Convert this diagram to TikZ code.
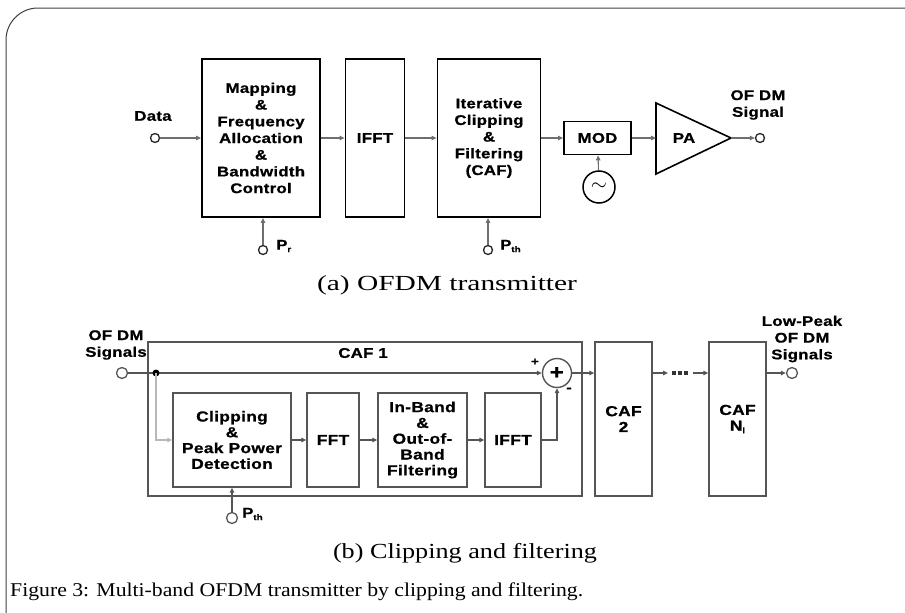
\documentclass[tikz,border=0pt]{standalone}
\usepackage{fontspec}
\usepackage{graphicx}
\usetikzlibrary{arrows.meta}
\setmainfont{Liberation Serif}
\newfontfamily\diagfont[FakeStretch=1.2, LetterSpace=2, FakeBold=0.8]{Liberation Sans}

\definecolor{edge}{HTML}{555555}
\definecolor{wire}{HTML}{6E6E6E}
\definecolor{lightwire}{HTML}{B8B8B8}

\tikzset{
  sanstext/.style={font={\diagfont\bfseries\fontsize{14}{16.7}\selectfont}, text=black, align=center},
  tbox/.style={sanstext, draw=black, line width=1.8pt, inner sep=0pt},
  bbox/.style={sanstext, draw=edge, line width=1.4pt, inner sep=0pt,
               font={\diagfont\bfseries\fontsize{14.5}{15.8}\selectfont}},
  lbl/.style={sanstext, inner sep=0pt},
  term/.style={circle, draw=black!85, line width=1.3pt, minimum size=9pt, inner sep=0pt},
  bterm/.style={circle, draw=edge, line width=1.3pt, minimum size=11pt, inner sep=0pt},
  tip/.style={-{Triangle[length=5pt,width=4.5pt]}},
  conn/.style={draw=wire, line width=1.1pt, tip},
  bconn/.style={draw=edge, line width=1.2pt, tip},
  lconn/.style={draw=lightwire, line width=1.6pt, tip},
  frame/.style={draw=black!75, line width=1pt, rounded corners=32pt},
  capfont/.style={inner sep=0pt, text=black}
}

\newcommand{\subsm}[1]{\raisebox{-2.5pt}{\fontsize{8}{8}\selectfont #1}}

\begin{document}
\begin{tikzpicture}[x=1pt,y=-1pt]
\useasboundingbox (0,0) rectangle (905,613);

% outer rounded frame
\begin{scope}
  \clip (0,0) rectangle (905,613);
  \draw[frame] (6,660) rectangle (935,8);
\end{scope}

% ---------- (a) transmitter ----------
\node[tbox, minimum width=118pt, minimum height=158pt] (map) at (261,138)
  {Mapping\\\&\\Frequency\\Allocation\\\&\\Bandwidth\\Control};
\node[tbox, minimum width=59pt, minimum height=158pt] (ifft) at (375,138) {IFFT};
\node[tbox, minimum width=103pt, minimum height=158pt] (caf) at (489,138)
  {Iterative\\Clipping\\\&\\Filtering\\(CAF)};
\node[tbox, minimum width=67pt, minimum height=33pt] (mod) at (597.5,138) {MOD};
\node[tbox, circle, minimum size=32pt, line width=1.5pt] (osc) at (599,187)
  {\fontsize{22}{22}\selectfont$\sim$};

% power amplifier
\draw[line width=1.6pt, line join=miter] (656,103) -- (656,174) -- (731,138) -- cycle;
\coordinate (paIn) at (656,138);
\coordinate (paOut) at (731,138);
\node[lbl] (pa) at (684,138) {PA};

\node[term] (din) at (155,138) {};
\node[lbl] (dlab) at (153,116) {Data};
\node[term] (dout) at (760,138) {};
\node[lbl] (olab) at (758,105) {OF DM\\Signal};

\node[term] (pr) at (263,250) {};
\node[lbl, anchor=west] (prl) at (276,246) {P\subsm{r}};
\node[term] (pth) at (488,250) {};
\node[lbl, anchor=west] (pthl) at (500,246) {P\subsm{th}};

\draw[conn] (din) -- (map);
\draw[conn] (map) -- (ifft);
\draw[conn] (ifft) -- (caf);
\draw[conn] (caf) -- (mod);
\draw[conn] (mod) -- (paIn);
\draw[conn] (paOut) -- (dout);
\draw[conn] (osc) -- (mod);
\draw[conn] (pr) -- (pr |- map.south);
\draw[conn] (pth) -- (pth |- caf.south);

\node[capfont] (capa) at (447,285)
  {\resizebox{260pt}{\height}{\fontsize{21.5}{21.5}\selectfont (a) OFDM transmitter}};

% ---------- (b) clipping and filtering ----------
\node[bbox, minimum width=434pt, minimum height=154pt] (caf1) at (365,419) {};
\node[lbl] (caf1l) at (363,353) {CAF 1};

\node[bterm] (bin) at (122,373) {};
\node[lbl] (inlab) at (116,345) {OF DM\\Signals};
\coordinate (split) at (156,373);

\node[bbox, circle, minimum size=29pt] (sum) at (557,373)
  {\fontsize{20}{20}\selectfont\textbf{+}};
\node[lbl, font={\diagfont\bfseries\fontsize{11}{11}\selectfont}] (plus) at (535,362) {+};
\node[lbl, font={\diagfont\bfseries\fontsize{14}{14}\selectfont}] (minus) at (569,390) {-};

\node[bbox, minimum width=118pt, minimum height=94pt] (clip) at (232,440)
  {Clipping\\\&\\Peak Power\\Detection};
\node[bbox, minimum width=52pt, minimum height=94pt] (fft) at (333,440) {FFT};
\node[bbox, minimum width=89pt, minimum height=94pt] (inb) at (422.5,440)
  {In-Band\\\&\\Out-of-\\Band\\Filtering};
\node[bbox, minimum width=56pt, minimum height=94pt] (ifftb) at (513,440) {IFFT};

\node[bbox, minimum width=57pt, minimum height=154pt] (caf2) at (623.5,419) {CAF\\2};
\node[bbox, minimum width=57pt, minimum height=154pt] (cafn) at (737.5,419) {CAF\\N\subsm{l}};

\node[bterm] (bout) at (792,373) {};
\node[lbl] (outlab) at (802,339) {Low-Peak\\OF DM\\Signals};

\node[bterm] (pthb) at (232,518) {};
\node[lbl, anchor=west] (pthbl) at (242,514) {P\subsm{th}};

\draw[edge, line width=1.2pt] (bin) -- (split);
\draw[bconn] (split) -- (sum);
\fill[black] (split) circle (3.5pt);
\draw[lconn] (split) |- (clip.west);
\draw[bconn] (clip) -- (fft);
\draw[bconn] (fft) -- (inb);
\draw[bconn] (inb) -- (ifftb);
\draw[bconn] (ifftb.east) -| (sum.south);
\draw[bconn] (sum) -- (sum -| caf2.west);

\coordinate (dotA) at (668,373);
\coordinate (dotB) at (693,373);
\draw[bconn] (sum -| caf2.east) -- (dotA);
\foreach \xx in {674,680,686} \fill[black!80] (\xx-1.6,371.4) rectangle (\xx+1.6,374.6);
\draw[bconn] (dotB) -- (dotB -| cafn.west);
\draw[bconn] (bout -| cafn.east) -- (bout);
\draw[bconn] (pthb) -- (clip.south);

\node[capfont] (capb) at (465,553)
  {\resizebox{264pt}{\height}{\fontsize{21.5}{21.5}\selectfont (b) Clipping and filtering}};

\node[capfont, anchor=west] (figcap) at (10,592)
  {\resizebox{573pt}{\height}{\fontsize{19.5}{19.5}\selectfont Figure 3: Multi-band OFDM transmitter by clipping and filtering.}};
\end{tikzpicture}
\end{document}
